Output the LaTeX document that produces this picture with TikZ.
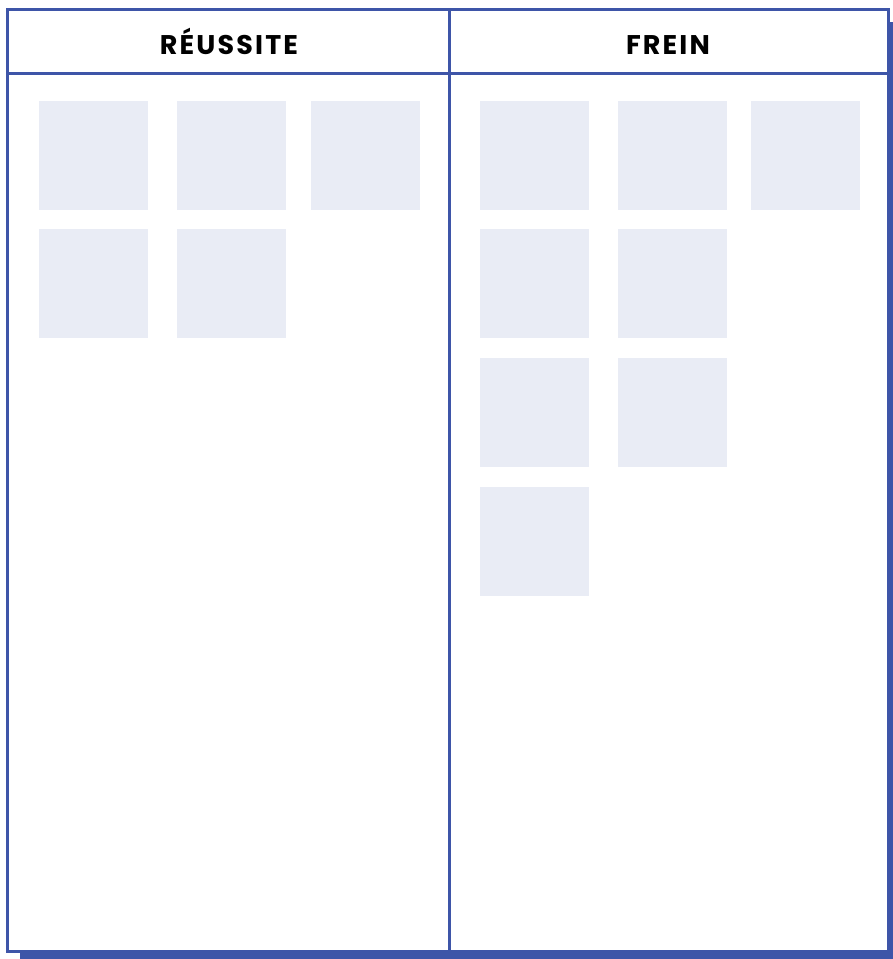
\documentclass[tikz,border=0pt]{standalone}
\usepackage{fontspec}
\newfontfamily\headfont[LetterSpace=8]{Poppins}
\definecolor{frameblue}{HTML}{3E55A8}
\definecolor{stickyfill}{HTML}{E9ECF5}
\tikzset{
  sticky/.style={fill=stickyfill, draw=none, minimum width=109pt, minimum height=109pt, inner sep=0pt, anchor=north west},
  colhead/.style={font=\headfont\bfseries\fontsize{27}{30}\selectfont, text=black, anchor=base}
}
\begin{document}
\begin{tikzpicture}[x=1pt,y=-1pt]
\useasboundingbox (0,0) rectangle (893,959);
% shadow and frame
\fill [frameblue] (20,22) rectangle (905,968);
\draw [frameblue, line width=3pt, fill=white] (7,9) rectangle (888,951);
\draw [frameblue, line width=3pt] (7,73) -- (888,73);
\draw [frameblue, line width=3pt] (449,9) -- (449,951);
\node [colhead] (reussite) at (229,54) {RÉUSSITE};
\node [colhead] (frein) at (668,54) {FREIN};
% stickies left
\foreach \n/\x/\y in {1/39/101, 2/177/101, 3/311/101, 4/39/229, 5/177/229}
  \node [sticky] (r\n) at (\x,\y) {};
% stickies right
\foreach \n/\x/\y in {1/480/101, 2/618/101, 3/751/101, 4/480/229, 5/618/229, 6/480/358, 7/618/358, 8/480/487}
  \node [sticky] (f\n) at (\x,\y) {};
\end{tikzpicture}
\end{document}
